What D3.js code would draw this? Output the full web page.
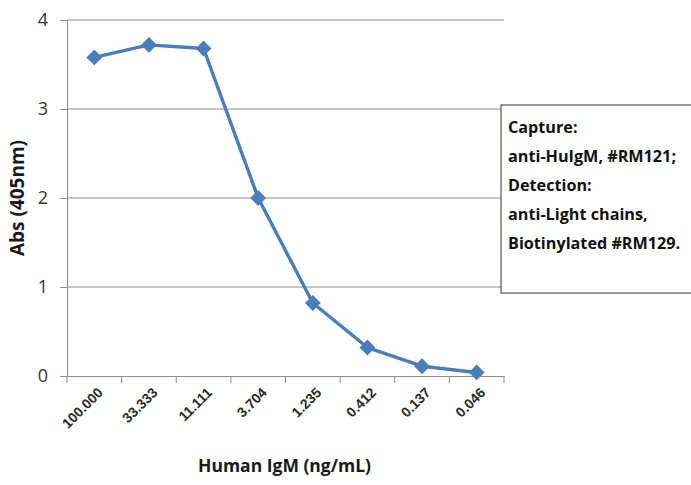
<!DOCTYPE html>
<html>
<head>
<meta charset="utf-8">
<script src="https://cdn.jsdelivr.net/npm/d3@7"></script>
<style>
  body { margin: 0; background: #fff; }
  svg { display: block; font-family: "Open Sans", Lato, sans-serif; }
</style>
</head>
<body>
<svg id="chart" width="691" height="485"></svg>
<script>
// concentrations (ng/mL) as shown on the x axis
var concLabels = ["100.000", "33.333", "11.111", "3.704", "1.235", "0.412", "0.137", "0.046"];
// absorbance readings at 405nm
var absValues = [3.58, 3.72, 3.68, 2.0, 0.82, 0.32, 0.11, 0.04];
var yTicks = [0, 1, 2, 3, 4];
var noteLines = ["Capture:", "anti-HuIgM, #RM121;", "Detection:", "anti-Light chains,", "Biotinylated #RM129."];

var margin = {top: 20, right: 187, bottom: 109, left: 67};
var width = 691 - margin.left - margin.right;
var height = 485 - margin.top - margin.bottom;

var svg = d3.select("#chart");
var chartGroup = svg.append("g")
  .attr("transform", `translate(${margin.left}, ${margin.top})`);

var xScale = d3.scaleBand()
  .domain(concLabels)
  .range([0, width]);

var yScale = d3.scaleLinear()
  .domain([0, 4])
  .range([height, 0]);

// horizontal gridlines
chartGroup.append("g")
  .selectAll("line")
  .data(yTicks.filter(d => d > 0))
  .enter()
  .append("line")
  .attr("x1", 0)
  .attr("x2", width)
  .attr("y1", d => yScale(d))
  .attr("y2", d => yScale(d))
  .attr("stroke", "#8c8c8c")
  .attr("stroke-width", 1);

// y axis
var leftAxis = d3.axisLeft(yScale)
  .tickValues(yTicks)
  .tickSize(7)
  .tickPadding(12)
  .tickFormat(d3.format("d"));

var yAxis = chartGroup.append("g").call(leftAxis);
yAxis.select(".domain").attr("stroke", "#8c8c8c");
yAxis.selectAll(".tick line").attr("stroke", "#8c8c8c");
yAxis.selectAll("text")
  .style("font-family", "'Open Sans', sans-serif")
  .style("font-size", "18px")
  .style("fill", "#333");

// x axis with ticks on the band boundaries
var bottomAxis = d3.axisBottom(xScale).tickSize(0).tickFormat("");
var xAxis = chartGroup.append("g")
  .attr("transform", `translate(0, ${height})`)
  .call(bottomAxis);
xAxis.select(".domain").attr("stroke", "#8c8c8c");

xAxis.selectAll("line.bound")
  .data(concLabels.concat(["end"]))
  .enter()
  .append("line")
  .attr("class", "bound")
  .attr("x1", (d, i) => i * xScale.bandwidth())
  .attr("x2", (d, i) => i * xScale.bandwidth())
  .attr("y1", 0)
  .attr("y2", 7)
  .attr("stroke", "#8c8c8c");

xAxis.selectAll("text.lbl")
  .data(concLabels)
  .enter()
  .append("text")
  .attr("class", "lbl")
  .attr("transform", d => `translate(${xScale(d) + xScale.bandwidth() / 2 + 6}, 14) rotate(-45)`)
  .attr("text-anchor", "end")
  .attr("dy", "0.35em")
  .style("font-size", "14px")
  .style("font-weight", "600")
  .style("fill", "#2a2a2a")
  .text(d => d);

// line + diamond markers
var line = d3.line()
  .x((d, i) => xScale(concLabels[i]) + xScale.bandwidth() / 2)
  .y(d => yScale(d));

chartGroup.append("path")
  .datum(absValues)
  .attr("d", line)
  .attr("fill", "none")
  .attr("stroke", "#4a7ebb")
  .attr("stroke-width", 3.4)
  .attr("stroke-linejoin", "round");

chartGroup.selectAll("path.marker")
  .data(absValues)
  .enter()
  .append("path")
  .attr("class", "marker")
  .attr("d", d3.symbol().type(d3.symbolDiamond2).size(160))
  .attr("transform", (d, i) => `translate(${xScale(concLabels[i]) + xScale.bandwidth() / 2}, ${yScale(d)})`)
  .attr("fill", "#4a7ebb");

// axis titles
svg.append("text")
  .attr("transform", `translate(24, ${margin.top + height / 2}) rotate(-90)`)
  .attr("text-anchor", "middle")
  .style("font-size", "19px")
  .style("font-weight", "bold")
  .style("fill", "#1a1a1a")
  .text("Abs (405nm)");

svg.append("text")
  .attr("x", margin.left + width / 2 - 1)
  .attr("y", 472)
  .attr("text-anchor", "middle")
  .style("font-size", "17.5px")
  .style("font-weight", "bold")
  .style("fill", "#1a1a1a")
  .text("Human IgM (ng/mL)");

// note box
var note = svg.append("g").attr("transform", "translate(501, 105)");
note.append("rect")
  .attr("x", 0)
  .attr("y", 0)
  .attr("width", 195)
  .attr("height", 188)
  .attr("fill", "#fff")
  .attr("stroke", "#333")
  .attr("stroke-width", 1);

note.selectAll("text")
  .data(noteLines)
  .enter()
  .append("text")
  .attr("x", 7)
  .attr("y", (d, i) => 28 + i * 29)
  .style("font-size", "16.2px")
  .style("font-weight", "bold")
  .style("fill", "#111")
  .text(d => d);
</script>
</body>
</html>
